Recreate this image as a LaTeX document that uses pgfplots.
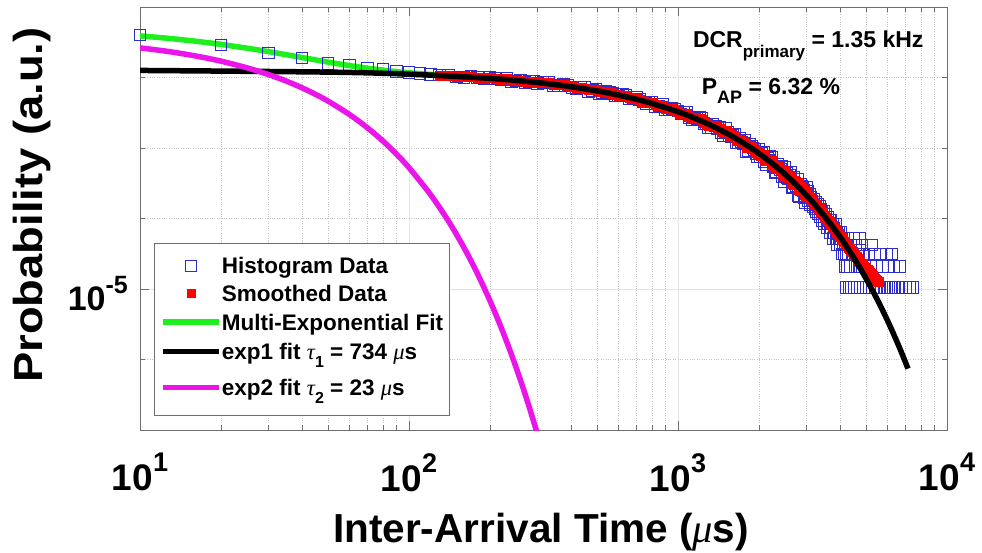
\documentclass[border=0pt]{standalone}
\usepackage{fontspec}
\setmainfont{Liberation Sans}
\newfontfamily\grk{Liberation Serif}
\newfontfamily\ylfont{Liberation Sans}[FakeStretch=1.12]
\usepackage{pgfplots}
\pgfplotsset{compat=1.18}
\usepackage{pgfplotstable}

\definecolor{histblue}{RGB}{45,45,205}
\definecolor{fitgreen}{RGB}{30,240,30}
\definecolor{fitmag}{RGB}{235,20,235}
\definecolor{gridmaj}{RGB}{228,228,228}
\definecolor{gridmin}{RGB}{195,195,195}
\definecolor{axgray}{RGB}{110,110,110}

\newcommand\xtl[1]{10\raisebox{19pt}{\fontsize{27}{27}\selectfont #1}}
\newcommand\lsub[3]{\raisebox{#1}{\fontsize{#2}{#2}\selectfont #3}}
\newcommand\gk[1]{{\grk\itshape\mdseries #1}}

% histogram counts (bin 10 us)
\pgfplotstableread{
t p
10 0.0401
20 0.0289
30 0.0224
40 0.0190
50 0.0158
60 0.0149
70 0.0137
80 0.0129
90 0.0123
100 0.0118
110 0.0114
120 0.0111
130 0.0109
140 0.01081
150 0.01015
160 0.00993
170 0.01048
180 0.01008
190 0.00951
200 0.01013
210 0.00978
220 0.00929
230 0.00976
240 0.00879
250 0.00899
260 0.00923
270 0.00849
280 0.00875
290 0.00895
300 0.00826
315 0.00856
330 0.00859
345 0.00766
360 0.00774
375 0.00805
390 0.00769
405 0.00724
420 0.00685
435 0.00727
450 0.00724
465 0.00637
480 0.00661
495 0.00690
510 0.00593
525 0.00612
540 0.00636
555 0.00626
570 0.00597
585 0.00550
600 0.00547
620 0.00571
640 0.00566
660 0.00494
680 0.00495
700 0.00526
720 0.00493
740 0.00452
760 0.00431
780 0.00450
800 0.00451
825 0.00390
850 0.00397
875 0.00411
900 0.00345
925 0.00351
950 0.00364
975 0.00355
1000 0.00334
1025 0.003031
1050 0.003202
1075 0.003169
1100 0.002659
1125 0.002514
1150 0.002717
1175 0.002610
1200 0.002724
1225 0.002669
1250 0.002228
1275 0.002185
1300 0.001938
1325 0.001947
1350 0.002182
1375 0.002066
1400 0.001911
1425 0.001991
1450 0.001644
1475 0.001493
1500 0.001880
1525 0.001666
1550 0.001507
1575 0.001469
1600 0.001519
1625 0.001580
1650 0.001203
1675 0.001197
1700 0.001389
1725 0.001218
1750 0.001165
1775 0.001272
1800 0.000902
1825 0.000925
1850 0.001120
1875 0.001054
1900 0.001000
1925 0.000957
1950 0.000828
1975 0.000762
2000 0.000957
2025 0.000745
2050 0.000855
2075 0.000863
2100 0.000634
2125 0.000585
2150 0.000708
2175 0.000676
2200 0.000752
2225 0.000745
2250 0.000548
2275 0.000545
2300 0.000442
2325 0.000463
2350 0.000594
2375 0.000553
2400 0.000493
2425 0.000547
2450 0.000392
2475 0.000330
2500 0.000537
2525 0.000442
2550 0.000376
2575 0.000370
2600 0.000407
2625 0.000449
2650 0.000273
2675 0.000281
2700 0.000387
2725 0.000312
2750 0.000296
2775 0.000358
2800 0.000211
2825 0.000203
2850 0.000310
2875 0.000285
2900 0.000266
2925 0.000252
2950 0.000195
2975 0.000169
3000 0.000276
3025 2.415e-4
3050 1.785e-4
3075 2.205e-4
3100 1.575e-4
3125 1.995e-4
3150 1.785e-4
3175 1.47e-4
3200 1.89e-4
3225 1.365e-4
3250 1.68e-4
3275 1.26e-4
3300 1.575e-4
3325 1.155e-4
3350 1.47e-4
3375 1.05e-4
3400 1.365e-4
3425 1.26e-4
3450 9.45e-5
3475 1.26e-4
3500 8.4e-5
3525 1.155e-4
3550 1.05e-4
3575 7.35e-5
3600 1.05e-4
3625 8.4e-5
3650 9.45e-5
3675 6.3e-5
3700 9.45e-5
3725 7.35e-5
3750 8.4e-5
3775 5.25e-5
3800 7.35e-5
3825 6.3e-5
3850 8.4e-5
3875 5.25e-5
3900 6.3e-5
3925 4.2e-5
3950 6.3e-5
3975 5.25e-5
4000 4.2e-5
4025 6.3e-5
4050 5.25e-5
4075 3.15e-5
4100 4.2e-5
4125 5.25e-5
4150 3.15e-5
4175 4.2e-5
4200 2.1e-5
4225 3.15e-5
4250 4.2e-5
4275 2.1e-5
4300 3.15e-5
4210 1.05e-5
4320 1.05e-5
4420 1.05e-5
4530 1.05e-5
4640 1.05e-5
4760 1.05e-5
4880 1.05e-5
5010 1.05e-5
5140 1.05e-5
5280 1.05e-5
5420 1.05e-5
5570 1.05e-5
5720 1.05e-5
5880 1.05e-5
6050 1.05e-5
6230 1.05e-5
6410 1.05e-5
6600 1.05e-5
6800 1.05e-5
7010 1.05e-5
7240 1.05e-5
7480 1.05e-5
4380 2.1e-5
4560 2.1e-5
4740 2.1e-5
4950 2.1e-5
5180 2.1e-5
5460 2.1e-5
5750 2.1e-5
6050 2.1e-5
6350 2.1e-5
6650 2.1e-5
4460 3.15e-5
4680 3.15e-5
4900 3.15e-5
5120 3.15e-5
5360 3.15e-5
5650 3.15e-5
5950 3.15e-5
6200 3.15e-5
4580 4.2e-5
4830 4.2e-5
5250 4.2e-5
4480 5.25e-5
4720 5.25e-5
}\histdata

% smoothed histogram
\pgfplotstableread{
t p
130 0.01078
140 0.010656
150 0.010306
160 0.010133
170 0.01027
180 0.010028
190 0.009719
200 0.009886
210 0.009667
220 0.009394
230 0.009505
240 0.009041
250 0.009046
260 0.009069
270 0.0087
280 0.008733
290 0.008742
300 0.008396
315 0.008413
330 0.008324
345 0.007853
360 0.007788
375 0.007817
390 0.00758
405 0.007309
420 0.007064
435 0.007144
450 0.007047
465 0.006615
480 0.006629
495 0.006664
510 0.006197
525 0.006196
540 0.006215
555 0.006101
570 0.005912
585 0.005653
600 0.005571
620 0.005576
640 0.005467
660 0.005093
680 0.005012
700 0.005055
720 0.004844
740 0.004602
760 0.004443
780 0.004446
800 0.004379
825 0.004049
850 0.003994
875 0.00397
900 0.003628
925 0.003577
950 0.003556
975 0.00345
1000 0.003298
1025 0.003108
1050 0.003114
1075 0.00304
1100 0.002776
1125 0.00266
1150 0.002686
1175 0.00259
1200 0.002584
1225 0.002512
1250 0.002287
1275 0.002223
1300 0.002079
1325 0.002039
1350 0.002091
1375 0.002003
1400 0.001902
1425 0.001896
1450 0.001721
1475 0.001624
1500 0.001745
1525 0.001626
1550 0.001531
1575 0.001484
1600 0.001474
1625 0.00147
1650 0.00129
1675 0.001261
1700 0.001312
1725 0.001218
1750 0.001172
1775 0.001192
1800 0.001021
1825 0.001008
1850 0.001064
1875 0.001018
1900 0.000976
1925 0.00094
1950 0.000869
1975 0.000825
2000 0.000885
2025 0.000783
2050 0.000811
2075 0.000799
2100 0.000693
2125 0.000658
2150 0.000693
2175 0.000666
2200 0.000684
2225 0.000668
2250 0.000577
2275 0.000564
2300 0.000511
2325 0.000508
2350 0.00055
2375 0.000522
2400 0.000489
2425 0.0005
2450 0.000429
2475 0.000395
2500 0.000469
2525 0.000423
2550 0.000388
2575 0.000378
2600 0.000385
2625 0.000394
2650 0.000316
2675 0.000312
2700 0.000349
2725 0.000312
2750 0.000299
2775 0.000318
2800 0.000253
2825 0.000244
2850 0.000282
2875 0.000266
2900 0.000254
2925 0.000244
2950 0.000216
2975 0.000201
3000 0.000238
3050 2.05e-4
3100 1.89e-4
3150 1.785e-4
3200 1.62e-4
3250 1.55e-4
3300 1.42e-4
3350 1.37e-4
3400 1.25e-4
3450 1.19e-4
3500 1.07e-4
3550 1.04e-4
3600 9.45e-5
3650 9.03e-5
3700 8.30e-5
3750 7.88e-5
3800 7.25e-5
3850 6.93e-5
3900 6.30e-5
3950 6.09e-5
4000 5.57e-5
4050 5.36e-5
4100 4.94e-5
4150 4.73e-5
4200 4.31e-5
4250 4.20e-5
4300 3.89e-5
4350 3.78e-5
4400 3.47e-5
4450 3.36e-5
4500 3.15e-5
4550 3.05e-5
4600 2.84e-5
4650 2.73e-5
4700 2.57e-5
4750 2.47e-5
4800 2.31e-5
4850 2.21e-5
4900 2.10e-5
4950 2.02e-5
5000 1.94e-5
5050 1.87e-5
5100 1.79e-5
5150 1.70e-5
5200 1.63e-5
5250 1.58e-5
5300 1.52e-5
5350 1.47e-5
5400 1.42e-5
5450 1.37e-5
5500 1.31e-5
5550 1.26e-5
}\smoothdata

% multi-exponential fit (early part, later hidden under exp1)
\pgfplotstableread{
t p
10 0.03895
12.5 0.03619
15 0.03371
17.5 0.03149
20 0.02949
25 0.02606
30 0.02330
35 0.02106
40 0.01924
45 0.01776
50 0.01656
60 0.01477
70 0.01355
80 0.01271
90 0.01211
100 0.01167
120 0.01107
140 0.01065
}\multifit

% exp1 fit, tau1 = 734 us
\pgfplotstableread{
t p
10 0.012597
50 0.01193
100 0.011145
200 0.009724
300 0.008487
400 0.007406
500 0.006462
600 0.005639
700 0.004918
800 0.004292
1000 0.003270
1200 0.002490
1400 0.001896
1600 0.001444
1800 0.0011
2000 0.000837
2250 0.000596
2500 0.000424
2750 0.000301
3000 0.000214
3250 1.525e-4
3500 1.085e-4
3750 7.72e-5
4000 5.49e-5
4250 3.91e-5
4500 2.78e-5
4750 1.98e-5
5000 1.406e-5
5250 1.00e-5
5500 7.12e-6
5750 5.07e-6
6000 3.61e-6
6250 2.57e-6
6500 1.825e-6
6750 1.30e-6
7000 9.24e-7
7160 7.43e-7
}\expone

% exp2 fit, tau2 = 23 us
\pgfplotstableread{
t p
10 0.02635
12.5 0.02364
15 0.02120
17.5 0.01902
20 0.01706
25 0.01372
30 0.01104
35 0.008886
40 0.007150
45 0.005752
50 0.004628
60 0.002996
70 0.001940
80 0.001256
90 0.000813
100 0.000526
120 0.0002206
140 9.25e-5
160 3.88e-5
180 1.624e-5
200 6.81e-6
220 2.853e-6
240 1.196e-6
260 5.01e-7
280 2.10e-7
300 8.8e-8
}\exptwo

\begin{document}
\begin{tikzpicture}
\begin{axis}[
    at={(140pt,122pt)}, anchor=south west,
    width=807pt, height=423pt, scale only axis,
    xmode=log, ymode=log,
    xmin=10, xmax=10000, ymin=1e-7, ymax=1e-1,
    xtick={10,100,1000,10000},
    xticklabels={\xtl{1},\xtl{2},\xtl{3},\xtl{4}},
    ytick={1e-5},
    yticklabels={10\raisebox{17pt}{\fontsize{25}{25}\selectfont -5}},
    minor ytick={1e-7,1e-6,1e-4,1e-3,1e-2,1e-1},
    grid=both,
    major grid style={gridmaj, line width=0.8pt},
    minor grid style={gridmin, dotted, line width=0.8pt},
    axis line style={axgray, line width=1pt},
    tick style={axgray, line width=0.8pt},
    tick align=inside,
    major tick length=9pt, minor tick length=5pt,
    xticklabel style={font=\fontsize{37}{40}\selectfont\bfseries, inner sep=0pt, yshift=-23pt},
    yticklabel style={font=\fontsize{34}{38}\selectfont\bfseries, inner sep=0pt, xshift=-12pt, yshift=-5pt},
    xlabel={Inter-Arrival Time (\gk{μ}s)},
    xlabel style={font=\fontsize{40.5}{44}\selectfont\bfseries, at={(axis description cs:0.497,-0.2648)}, anchor=base, inner sep=0pt},
    ylabel={Probability (a.u.)},
    ylabel style={font=\ylfont\fontsize{40.5}{44}\selectfont\bfseries, at={(axis description cs:-0.1214,0.532)}, anchor=base, inner sep=0pt},
    clip mode=individual,
    legend image code/.code={
        \draw[mark repeat=2,mark phase=2,#1] plot coordinates {(0pt,0pt) (28pt,0pt) (56pt,0pt)};
    },
    legend cell align=left,
    legend style={at={(0.0173,0.0331)}, anchor=south west,
        draw=axgray, line width=1pt, fill=white,
        inner xsep=6pt, inner ysep=8pt,
        font=\fontsize{22.5}{27}\selectfont\bfseries,
        row sep=0pt,
        nodes={inner sep=0pt, text height=22.15pt, text depth=6.05pt}},
]
\addlegendimage{only marks, mark=square, mark size=5.5pt, histblue, mark options={line width=0.9pt}}
\addlegendentry{Histogram Data}
\addlegendimage{only marks, mark=square*, mark size=4pt, red}
\addlegendentry{Smoothed Data}
\addplot[fitgreen, line width=5.5pt, smooth] table {\multifit};
\addlegendentry{Multi-Exponential Fit}
\addplot[forget plot, only marks, mark=square, mark size=5.8pt, histblue, mark options={line width=0.9pt}] table {\histdata};
\addplot[forget plot, only marks, mark=square*, mark size=4.5pt, red] table {\smoothdata};
\addplot[black, line width=5.5pt, smooth] table {\expone};
\addlegendentry[text height=23.65pt, text depth=7.55pt]{exp1 fit \gk{τ}\lsub{-8pt}{16}{1} = 734 \gk{μ}s}
\addplot[fitmag, line width=5.5pt, smooth] table {\exptwo};
\addlegendentry[text height=28.15pt, text depth=12.05pt]{exp2 fit \gk{τ}\lsub{-8pt}{16}{2} = 23 \gk{μ}s}
\node[anchor=base west, font=\fontsize{23}{26}\selectfont\bfseries, inner sep=0pt]
    at (rel axis cs:0.685,0.905) {DCR\lsub{-10pt}{17}{primary} = 1.35 kHz};
\node[anchor=base west, font=\fontsize{23}{26}\selectfont\bfseries, inner sep=0pt]
    at (rel axis cs:0.696,0.792) {P\lsub{-9pt}{18}{AP} = 6.32 \%};
\end{axis}
\pgfresetboundingbox
\path[use as bounding box] (0pt,0pt) rectangle (982pt,552pt);
\end{tikzpicture}
\end{document}
